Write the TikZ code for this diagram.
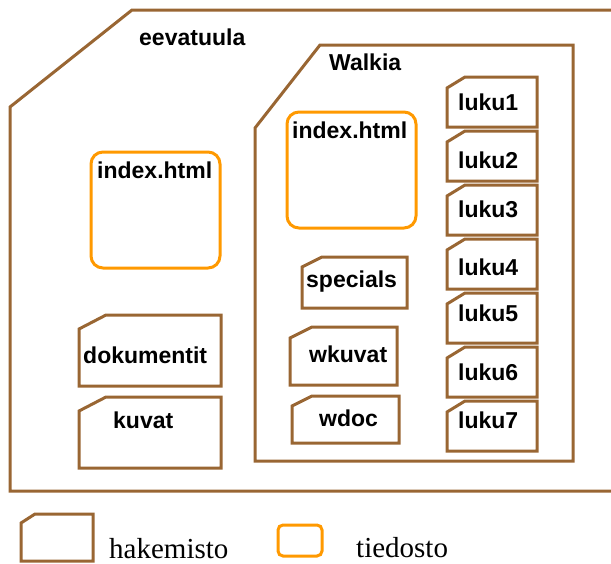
\documentclass[tikz,border=0pt]{standalone}
\usepackage{fontspec}
\setmainfont{Liberation Serif}
\newfontfamily\arialfont{Liberation Sans}
\usepackage{tikz}

\definecolor{ruskea}{RGB}{153,102,51}
\definecolor{oranssi}{RGB}{255,153,0}

% folder with a cut corner: x1 y1 x2 y2 cut-x cut-y
\newcommand{\kansio}[6]{%
  \draw [hakemisto] (#1,#2+#6) -- (#1+#5,#2) -- (#3,#2) -- (#3,#4) -- (#1,#4) -- cycle;}

\begin{document}
\begin{tikzpicture}[x=1pt,y=-1pt,
  hakemisto/.style={draw=ruskea,line width=3pt},
  tiedosto/.style={draw=oranssi,line width=3pt,rounded corners=12pt},
  nimi/.style={font=\arialfont\bfseries\fontsize{23}{27}\selectfont,anchor=base west,inner sep=0pt},
  selite/.style={font=\fontsize{29}{34}\selectfont,anchor=base west,inner sep=0pt}]
\useasboundingbox (0,0) rectangle (611,563);
% Draw outer folder eevatuula (open on the right)
\draw [hakemisto] (615,10) -- (132,10) -- (10,107) -- (10,491) -- (615,491);
\node [nimi] (eevatuula) at (139,45) {eevatuula};
% Draw folder Walkia
\draw [hakemisto] (255,461) -- (255,128) -- (320,45) -- (573,45) -- (573,461) -- cycle;
\node [nimi] (walkia) at (329,70) {Walkia};
% Draw files
\draw [tiedosto] (91,152) rectangle (220,268);
\node [nimi] (index1) at (97,178) {index.html};
\draw [tiedosto] (287,112) rectangle (416,228);
\node [nimi] (index2) at (292,138) {index.html};
% Draw subfolders of eevatuula
\kansio{79}{315}{221}{386}{27}{14}
\node [nimi] (dokumentit) at (83,363) {dokumentit};
\kansio{79}{397}{221}{468}{27}{14}
\node [nimi] (kuvat) at (113,428) {kuvat};
% Draw subfolders of Walkia
\kansio{302}{257}{407}{308}{20}{10}
\node [nimi] (specials) at (306,287) {specials};
\kansio{290}{327}{397}{385}{22}{11}
\node [nimi] (wkuvat) at (309,362) {wkuvat};
\kansio{292}{396}{399}{443}{20}{10}
\node [nimi] (wdoc) at (319,426) {wdoc};
\kansio{447}{77}{537}{127}{18}{11}
\node [nimi] (luku1) at (458,110) {luku1};
\kansio{447}{131}{537}{181}{18}{11}
\node [nimi] (luku2) at (458,168) {luku2};
\kansio{447}{185}{537}{235}{18}{11}
\node [nimi] (luku3) at (458,217) {luku3};
\kansio{447}{239}{537}{289}{18}{11}
\node [nimi] (luku4) at (458,275) {luku4};
\kansio{447}{293}{537}{343}{18}{11}
\node [nimi] (luku5) at (458,321) {luku5};
\kansio{447}{347}{537}{397}{18}{11}
\node [nimi] (luku6) at (458,380) {luku6};
\kansio{447}{401}{537}{451}{18}{11}
\node [nimi] (luku7) at (458,428) {luku7};
% Draw legend
\kansio{21}{514}{93}{561}{14}{9}
\node [selite] (hakemisto) at (109,558) {hakemisto};
\draw [tiedosto,rounded corners=5pt] (278,525) rectangle (322,556);
\node [selite] (tiedosto) at (356,557) {tiedosto};
\end{tikzpicture}
\end{document}
